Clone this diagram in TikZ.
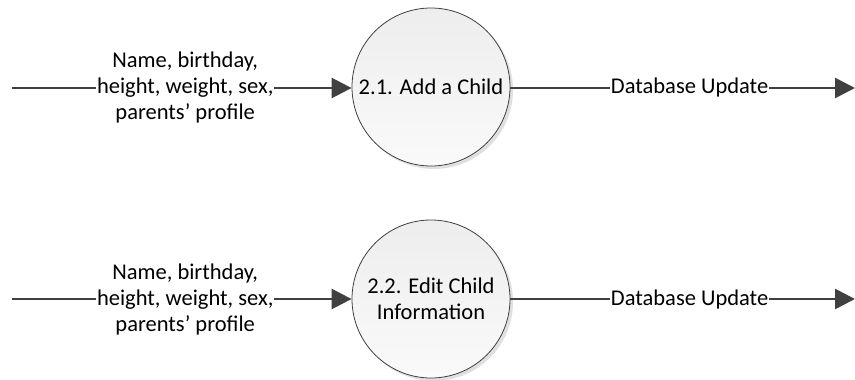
\documentclass[tikz,border=0pt]{standalone}
\usepackage{fontspec}
\setmainfont{Carlito}
\usetikzlibrary{arrows.meta,shadows}
\definecolor{lnc}{HTML}{404040}
\tikzset{
  proc/.style={circle, draw=lnc, line width=0.8pt, minimum size=158pt, inner sep=0pt,
    top color=black!7, bottom color=black!2, align=center,
    drop shadow={shadow xshift=3pt, shadow yshift=-3pt, fill=black!20, opacity=0.6},
    font=\fontsize{22.5}{26}\selectfont},
  flow/.style={draw=lnc, line width=2.6pt, -{Triangle[length=20pt,width=20pt]}},
  lbl/.style={fill=white, inner sep=1pt, align=center, font=\fontsize{22.5}{26}\selectfont},
}
\begin{document}
\begin{tikzpicture}[x=1pt,y=-1pt]
\useasboundingbox (0,0) rectangle (855,380);
\node[proc] (p1) at (431,87) {2.1. Add a Child};
\node[proc] (p2) at (431,299) {2.2. Edit Child\\Information};
\coordinate (i1) at (12,88);
\coordinate (i2) at (12,299);
\coordinate (o1) at (855,88);
\coordinate (o2) at (855,299);
\draw[flow] (i1) -- node[lbl, pos=0.51] {Name, birthday,\\height, weight, sex,\\parents’ profile} (p1.west |- i1) ;
\draw[flow] (i2) -- node[lbl, pos=0.51] {Name, birthday,\\height, weight, sex,\\parents’ profile} (p2.west |- i2);
\draw[flow] (p1.east |- o1) -- node[lbl, pos=0.52] {Database Update} (o1);
\draw[flow] (p2.east |- o2) -- node[lbl, pos=0.52] {Database Update} (o2);
\end{tikzpicture}
\end{document}
